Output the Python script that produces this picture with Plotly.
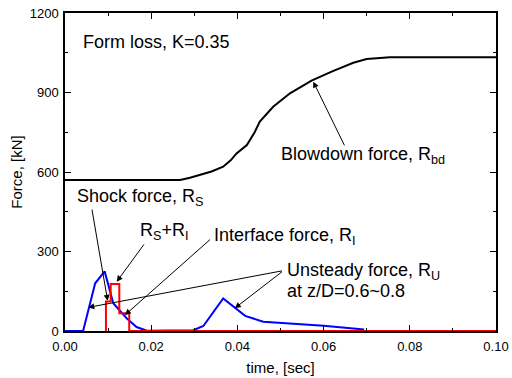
import plotly.graph_objects as go

# Blowdown force R_bd (black)
t_bd = [0.0, 0.0267, 0.0290, 0.0313, 0.0340, 0.0367, 0.0385, 0.0398, 0.0422, 0.0440, 0.0452,
        0.0483, 0.0522, 0.0572, 0.0620, 0.0669, 0.0700, 0.0754, 0.1000]
f_bd = [570, 570, 578, 589, 602, 620, 645, 670, 702, 750, 790,
        846, 897, 945, 980, 1012, 1026, 1033, 1033]

# Unsteady force R_U (blue)
t_u = [0.0, 0.0042, 0.0070, 0.0092, 0.0112, 0.0143, 0.0166, 0.0190, 0.0298, 0.0321,
       0.0367, 0.0418, 0.0460, 0.0600, 0.0694]
f_u = [0, 0, 180, 225, 105, 48, 15, 1, 3, 19,
       123, 57, 35, 20, 6]

# Shock + interface force step (red)
t_s = [0.0095, 0.0095, 0.0106, 0.0126, 0.0149, 0.1000]
f_s = [0, 111, 177, 67, 0, 0]

x_ticks = [0.00, 0.02, 0.04, 0.06, 0.08, 0.10]
y_ticks = [0, 300, 600, 900, 1200]

FONT = "Liberation Sans, Arial, Helvetica, sans-serif"

fig = go.Figure()
fig.add_trace(go.Scatter(x=t_bd, y=f_bd, mode="lines", line=dict(color="black", width=2)))
fig.add_trace(go.Scatter(x=t_u, y=f_u, mode="lines", line=dict(color="#0000ff", width=2)))
fig.add_trace(go.Scatter(x=t_s, y=f_s, mode="lines", line=dict(color="#ff0000", width=2, shape="hv")))

ann = []
txt = [
    ("Form loss, K=0.35", 0.0037, 1091),
    ("Blowdown force, R<sub>bd</sub>", 0.0497, 664),
    ("Shock force, R<sub>S</sub>", 0.0023, 502),
    ("R<sub>S</sub>+R<sub>I</sub>", 0.0169, 377),
    ("Interface force, R<sub>I</sub>", 0.0341, 355),
    ("Unsteady force, R<sub>U</sub>", 0.0510, 226),
    ("at z/D=0.6~0.8", 0.0510, 151),
]
for s, x, y in txt:
    ann.append(dict(text=s, x=x, y=y, xref="x", yref="y", xanchor="left", yanchor="middle",
                    showarrow=False, font=dict(family=FONT, size=18, color="black")))
arrows = [
    (0.0650, 695, 0.0576, 941),
    (0.0062, 464, 0.0099, 114),
    (0.01856, 332, 0.0120, 186),
    (0.0340, 350, 0.0139, 60),
    (0.0507, 228, 0.0054, 89),
    (0.0507, 228, 0.0394, 86),
]
for ax, ay, x, y in arrows:
    ann.append(dict(text="", x=x, y=y, ax=ax, ay=ay, xref="x", yref="y", axref="x", ayref="y",
                    showarrow=True, arrowhead=2, arrowsize=1.2, arrowwidth=1, arrowcolor="black",
                    standoff=0, startstandoff=0))

fig.update_layout(
    width=512, height=378,
    margin=dict(l=65, r=16, t=13, b=47, autoexpand=False),
    paper_bgcolor="white", plot_bgcolor="white",
    showlegend=False,
    font=dict(family=FONT, size=13, color="black"),
    annotations=ann,
)
fig.update_xaxes(
    range=[0, 0.1], tickvals=x_ticks, tickformat=".2f",
    ticks="inside", ticklen=6, tickwidth=1.2, tickcolor="black",
    minor=dict(dtick=0.01, ticks="inside", ticklen=3, tickcolor="black", tickwidth=1.2),
    showline=True, linecolor="black", linewidth=1.5, mirror="ticks",
    showgrid=False, zeroline=False, automargin=False,
    ticklabelstandoff=3,
    title=dict(text="time, [sec]", font=dict(size=15), standoff=9),
    tickfont=dict(size=13),
)
fig.update_yaxes(
    range=[0, 1200], tickvals=y_ticks,
    ticks="inside", ticklen=6, tickwidth=1.2, tickcolor="black",
    minor=dict(dtick=150, ticks="inside", ticklen=3, tickcolor="black", tickwidth=1.2),
    showline=True, linecolor="black", linewidth=1.5, mirror="ticks",
    showgrid=False, zeroline=False, automargin=False,
    ticklabelstandoff=2,
    title=dict(text="Force, [kN]", font=dict(size=15), standoff=3),
    tickfont=dict(size=13),
)

fig.write_html("out.html", config={"displayModeBar": False},
               post_script="document.body.style.margin='0';document.body.style.overflow='hidden';")
